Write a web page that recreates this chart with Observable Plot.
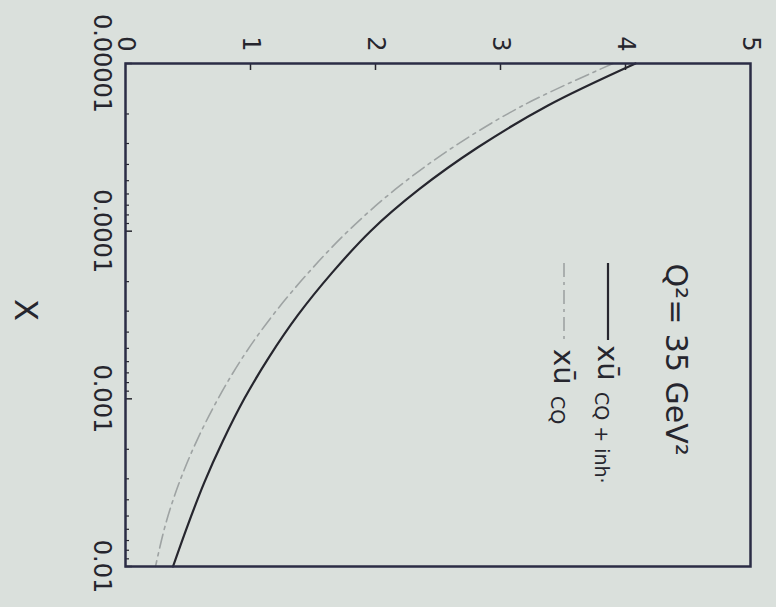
<!DOCTYPE html>
<html><head><meta charset="utf-8">
<script src="https://cdn.jsdelivr.net/npm/d3@7"></script>
<script src="https://cdn.jsdelivr.net/npm/@observablehq/plot@0.6"></script>
<style>
html,body{margin:0;padding:0;background:#dae0dc;}
</style></head><body><div id="chart"></div>
<script>
// ---- data ----
const xPoints = [1e-5, 1.78e-5, 3.16e-5, 5.62e-5, 1e-4, 1.78e-4, 3.16e-4, 5.62e-4, 1e-3, 1.78e-3, 3.16e-3, 5.62e-3, 1e-2];
const solidValues = [4.08, 3.38, 2.82, 2.35, 1.96, 1.65, 1.38, 1.15, 0.95, 0.78, 0.63, 0.50, 0.38];
const dashedValues = [3.90, 3.18, 2.62, 2.16, 1.78, 1.46, 1.18, 0.94, 0.74, 0.57, 0.43, 0.32, 0.24];
const valueTicks = [0, 1, 2, 3, 4, 5];
const xTicks = [1e-5, 1e-4, 1e-3, 1e-2];
const xTickLabels = ["0.00001", "0.0001", "0.001", "0.01"];
const seriesMain = ["xū", "xū"];
const seriesSub = ["CQ + inh·", "CQ"];
const title = "Q²= 35 GeV²";
const axisLabel = "X";

// ---- layout ----
const W = 776, H = 607, mL = 125, mT = 63, mR = 26, mB = 41;
const plotW = W - mL - mR, plotH = H - mT - mB;
const font = "DejaVu Sans, sans-serif";
const ink = "#26262e";
const bg = "#dae0dc";

const solid = xPoints.map((x, i) => ({x, v: solidValues[i]}));
const dashed = xPoints.map((x, i) => ({x, v: dashedValues[i]}));
const minor = [];
for (let e = -5; e < -2; e++) for (let k = 2; k < 10; k++) minor.push(k * Math.pow(10, e));

const strokes = [{stroke: ink, width: 2.2, dash: null}, {stroke: "#9ea3a3", width: 1.6, dash: "14,5,3,5"}];

function legend(index, scales, values, dims) {
  const g = d3.create("svg:g").attr("font-family", font).attr("fill", ink).attr("text-anchor", "start");
  const right = dims.width - dims.marginRight;
  const lx = [right - 142, right - 186];
  const mainStart = [345, 349];
  const subStart = [392, 396];
  seriesSub.forEach((s, i) => {
    g.append("line").attr("x1", lx[i]).attr("x2", lx[i]).attr("y1", 263).attr("y2", 340)
      .attr("stroke", strokes[i].stroke).attr("stroke-width", strokes[i].width)
      .attr("stroke-dasharray", strokes[i].dash);
    g.append("text").attr("transform", `translate(${lx[i]},${mainStart[i]}) rotate(90)`)
      .attr("dy", "0.35em").attr("font-size", 29).text(seriesMain[i]);
    g.append("text").attr("transform", `translate(${lx[i] - 6},${subStart[i]}) rotate(90)`)
      .attr("dy", "0.35em").attr("font-size", 19).text(s);
  });
  return g.node();
}

const chart = Plot.plot({
  width: W, height: H,
  marginLeft: mL, marginTop: mT, marginRight: mR, marginBottom: mB,
  style: {background: bg, fontFamily: font, color: ink},
  x: {domain: [0, 5]},
  y: {type: "log", domain: [1e-5, 1e-2], reverse: true},
  marks: [
    Plot.axisX({anchor: "top", ticks: valueTicks, tickSize: 0, tickPadding: 12, tickRotate: 90,
      fontSize: 24, label: null, tickFormat: d => String(d)}),
    Plot.axisY({anchor: "left", ticks: xTicks, tickSize: 0, tickPadding: 14, tickRotate: 90,
      fontSize: 24, label: null, tickFormat: d => xTickLabels[xTicks.indexOf(d)]}),
    Plot.tickX(valueTicks.slice(1, -1), {x: d => d, insetBottom: plotH - 7, stroke: ink, strokeWidth: 1.5}),
    Plot.tickY(minor, {y: d => d, insetRight: plotW - 4, stroke: ink, strokeWidth: 1.2}),
    Plot.tickY(xTicks, {y: d => d, insetRight: plotW - 7, stroke: ink, strokeWidth: 1.5}),
    Plot.line(dashed, {x: "v", y: "x", curve: "catmull-rom", stroke: strokes[1].stroke,
      strokeWidth: strokes[1].width, strokeDasharray: strokes[1].dash}),
    Plot.line(solid, {x: "v", y: "x", curve: "catmull-rom", stroke: ink, strokeWidth: strokes[0].width}),
    Plot.frame({stroke: "#2b2d45", strokeWidth: 2.5}),
    Plot.text([title], {frameAnchor: "top-right", dx: -75, dy: 200, rotate: 90, textAnchor: "start",
      lineAnchor: "middle", fontSize: 30, fill: ink}),
    Plot.text([axisLabel], {frameAnchor: "left", dx: -100, dy: -16, rotate: 90, fontSize: 32, fill: ink}),
    legend
  ]
});
document.getElementById("chart").appendChild(chart);
</script></body></html>
